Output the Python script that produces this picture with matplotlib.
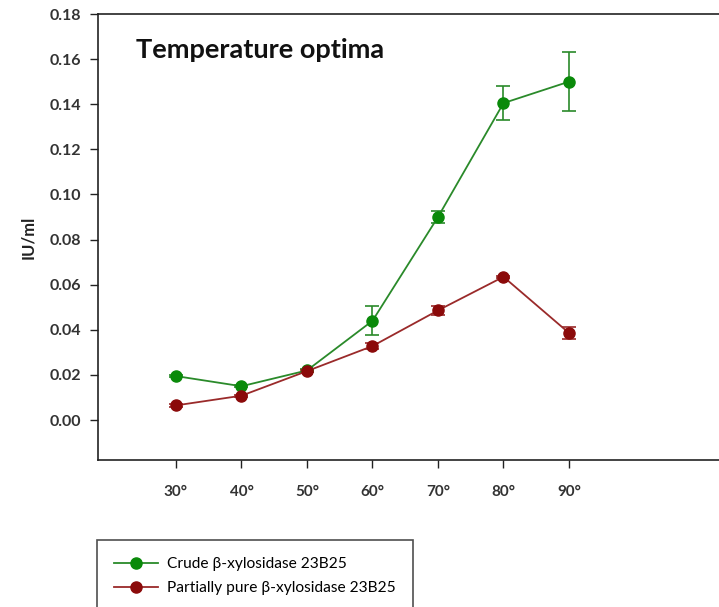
import matplotlib
matplotlib.use("Agg")
import matplotlib.pyplot as plt
from matplotlib.lines import Line2D

# Temperature (°C) and enzyme activity (IU/ml)
temperatures = [30, 40, 50, 60, 70, 80, 90]
tick_labels = ["30°", "40°", "50°", "60°", "70°", "80°", "90°"]

crude_activity = [0.0195, 0.015, 0.022, 0.044, 0.090, 0.1405, 0.150]
crude_error = [0.0005, 0.0005, 0.0005, 0.0065, 0.0028, 0.0075, 0.013]

partial_activity = [0.0065, 0.0108, 0.0217, 0.0328, 0.0486, 0.0635, 0.0386]
partial_error = [0.0005, 0.0005, 0.0005, 0.0015, 0.002, 0.0005, 0.0025]

y_ticks = [0.00, 0.02, 0.04, 0.06, 0.08, 0.10, 0.12, 0.14, 0.16, 0.18]

plt.rcParams["font.family"] = ["Lato", "DejaVu Sans"]

W, H = 719, 607
fig = plt.figure(figsize=(W / 100, H / 100), dpi=100)
ax = fig.add_axes([98 / W, (H - 460) / H, (W - 98) / W, (460 - 14) / H])

green = "#0a8a0a"
green_line = "#2a8a2a"
red = "#8b0a0a"
red_line = "#9a2a2a"

ax.errorbar(temperatures, crude_activity, yerr=crude_error, color=green_line,
            marker="o", markersize=8, markerfacecolor=green, markeredgecolor=green,
            linewidth=1.3, capsize=4.7, elinewidth=1.2, capthick=1.2, zorder=3)
ax.errorbar(temperatures, partial_activity, yerr=partial_error, color=red_line,
            marker="o", markersize=8, markerfacecolor=red, markeredgecolor=red,
            linewidth=1.3, capsize=4.7, elinewidth=1.2, capthick=1.2, zorder=3)

ax.set_xlim(18.1, 112.9)
ax.set_ylim(-0.0177, 0.18)
ax.set_xticks(temperatures)
ax.set_xticklabels(tick_labels, fontsize=11, fontweight="bold", color="#333333")
ax.set_yticks(y_ticks)
ax.set_yticklabels([f"{v:.2f}" for v in y_ticks], fontsize=11.5,
                   fontweight="bold", color="#333333")
ax.tick_params(axis="both", direction="out", length=6, width=1, color="#222222")
ax.tick_params(axis="x", pad=12)
ax.tick_params(axis="y", pad=6)

for side in ("left", "bottom", "top"):
    ax.spines[side].set_linewidth(1.2)
    ax.spines[side].set_color("#222222")
ax.spines["right"].set_visible(False)

ax.set_ylabel("IU/ml", fontsize=12, fontweight="bold", labelpad=10, color="#222222")

ax.text(38 / (W - 98), 0.919, "Temperature optima", transform=ax.transAxes,
        fontsize=19.5, fontweight="bold", color="#111111", va="center")

handles = [
    Line2D([], [], color=green_line, marker="o", markersize=8,
           markerfacecolor=green, markeredgecolor=green, linewidth=1.3),
    Line2D([], [], color=red_line, marker="o", markersize=8,
           markerfacecolor=red, markeredgecolor=red, linewidth=1.3),
]
labels = ["Crude β-xylosidase 23B25", "Partially pure β-xylosidase 23B25"]
leg = fig.legend(handles, labels, loc="upper left",
                 bbox_to_anchor=(97 / W, 1 - 540 / H), fontsize=11.2,
                 frameon=True, fancybox=False, edgecolor="#222222",
                 handlelength=2.8, borderpad=1.1, labelspacing=0.65,
                 handletextpad=0.6, borderaxespad=0)
leg.get_frame().set_linewidth(1.2)

fig.savefig("out.png", dpi=100)
